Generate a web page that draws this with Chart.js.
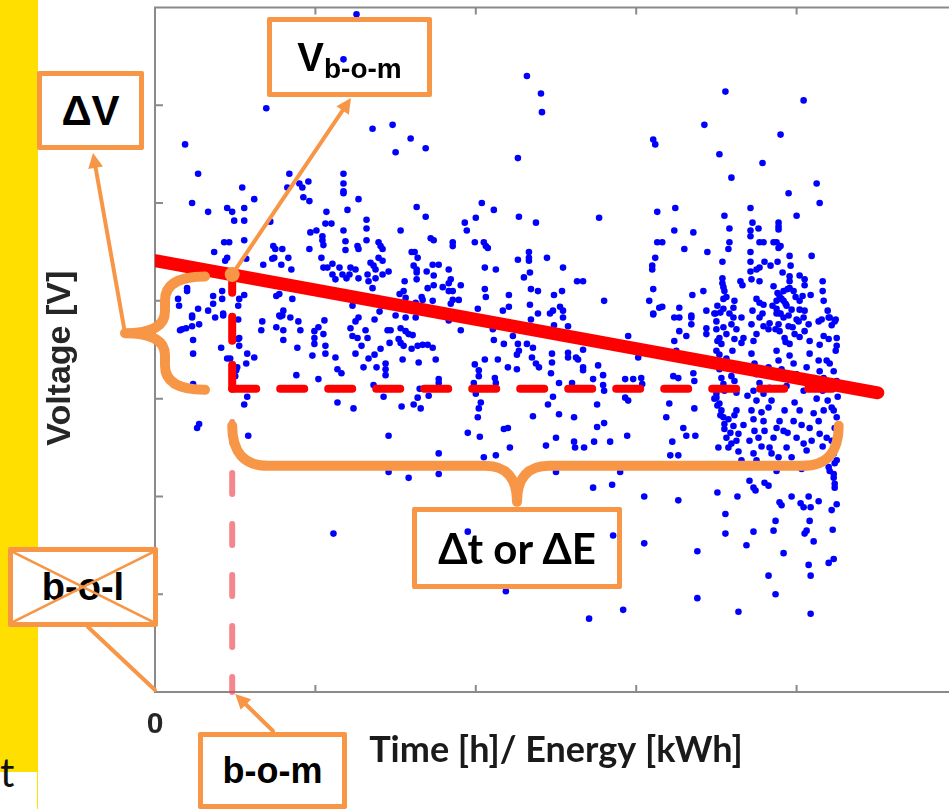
<!DOCTYPE html>
<html>
<head>
<meta charset="utf-8">
<script src="https://cdn.jsdelivr.net/npm/chart.js@4.4.1/dist/chart.umd.min.js"></script>
<style>
  html, body { margin: 0; padding: 0; background: #fff; overflow: hidden; }
  #stage { position: relative; width: 949px; height: 809px; overflow: hidden; }
  #strip { position: absolute; left: 0; top: 0; width: 38px; height: 809px; background: #FFDF00; }
  #stripEnd { position: absolute; left: 0; top: 772px; width: 37px; height: 37px; background: #fff; }
  #slideText { position: absolute; left: 0; top: 752px; font: 40px Lato, sans-serif; line-height: 1; color: #111; }
  #chartBox { position: absolute; left: 0; top: 0; width: 1000px; height: 809px; z-index: 1; }
  .tag { position: absolute; box-sizing: border-box; border: 5px solid #F79646; border-radius: 2px;
         display: flex; align-items: center; justify-content: center; z-index: 2;
         font-family: 'Liberation Sans', Arial, sans-serif; font-weight: bold; color: #000; line-height: 1; }
  .tag .sub { font-size: 28px; position: relative; top: 12px; }
  #tagDV  { left: 37px;  top: 71px;  width: 107px; height: 79px; background: #fff; font-size: 42px; }
  #tagV   { left: 267px; top: 17px;  width: 165px; height: 80px; font-size: 40px; }
  #tagBOL { left: 8px;   top: 547px; width: 150px; height: 80px; background: #fff; font-size: 38px; }
  #tagBOM { left: 198px; top: 732px; width: 149px; height: 77px; background: #fff; font-size: 36px; }
  #tagDT  { left: 412px; top: 507px; width: 210px; height: 82px; font-family: Lato, sans-serif; font-size: 42px; }
  #tagBOL svg { position: absolute; left: 0; top: 0; }
</style>
</head>
<body>
<div id="stage">
  <div id="strip"></div>
  <div id="stripEnd"></div>
  <div id="slideText">t</div>
  <div id="chartBox"><canvas id="chart"></canvas></div>
  <div class="tag" id="tagDV">ΔV</div>
  <div class="tag" id="tagV">V<span class="sub">b-o-m</span></div>
  <div class="tag" id="tagBOL">b-o-l<svg width="140" height="70" viewBox="0 0 140 70" preserveAspectRatio="none"><line x1="0" y1="0" x2="140" y2="70" stroke="#F79646" stroke-width="2.5"/><line x1="140" y1="0" x2="0" y2="70" stroke="#F79646" stroke-width="2.5"/></svg></div>
  <div class="tag" id="tagBOM">b-o-m</div>
  <div class="tag" id="tagDT">Δt or ΔE</div>
</div>
<script>
// units: x axis 0..800 (tick every 160), y axis 0..700 (tick every 100)
const xTickLabel = '0';
const xTitle = 'Time [h]/ Energy [kWh]';
const yTitle = 'Voltage [V]';

const trendLine = [[0, 441], [721, 306]];
const bomPoint = [77, 427];        // beginning of measurement, on the trend line
const plateauVoltage = 310;        // level of the red dashed line
const plateauEnd = 696;
const bomMarkerTop = 276;          // top of the pink dashed marker
const lastSample = 682;            // right end of the Δt / ΔE brace

const cloudLeft = [
  [201,693],[188,647],[111,597],[30,560],[43,530],[37,500],[53,491],[87,516],[99,504],[72,495],[77,491],[89,495],
  [79,482],[89,482],[59,450],[69,460],[74,460],[89,462],[72,444],[70,441],[91,443],[134,530],[132,516],[144,520],
  [147,516],[153,522],[148,506],[154,502],[115,481],[171,491],[170,479],[176,479],[188,530],[188,520],[188,512],
  [188,510],[192,493],[203,504],[217,576],[237,580],[240,552],[155,470],[161,472],[167,466],[167,462],[168,457],
  [154,453],[118,456],[120,453],[119,444],[117,443],[127,453],[133,444],[108,437],[126,437],[136,432],[166,444],
  [168,434],[172,434],[177,438],[188,472],[190,461],[190,452],[202,456],[203,453],[211,483],[211,474],[211,462],
  [223,460],[225,456],[227,453],[223,444],[215,439],[218,436],[220,432],[227,441],[184,434],[187,427],[191,423],
  [195,434],[194,427],[200,432],[203,423],[177,427],[180,422],[212,427],[213,420],[217,413],[220,423],[227,427],
  [233,430],[32,413],[32,410],[23,402],[24,395],[58,405],[58,397],[67,410],[67,402],[89,406],[121,405],[124,407],
  [137,402],[53,390],[43,392],[128,390],[197,395],[220,397],[227,395],[37,385],[60,383],[68,385],[124,385],[127,385],
  [25,370],[31,372],[37,374],[37,383],[44,376],[68,387],[38,360],[38,346],[66,352],[72,341],[83,381],[84,362],
  [84,354],[81,329],[80,323],[91,336],[99,342],[107,379],[106,370],[121,373],[125,384],[128,370],[128,360],[135,383],
  [143,379],[145,370],[142,352],[157,344],[159,369],[159,362],[159,356],[163,373],[168,366],[170,354],[170,346],
  [169,380],[141,324],[163,320],[180,342],[182,330],[186,326],[195,372],[197,364],[200,379],[203,383],[202,362],
  [206,354],[210,370],[212,362],[200,346],[208,332],[213,341],[219,345],[221,332],[225,351],[230,336],[230,330],
  [230,324],[234,357],[232,370],[235,370],[219,381],[224,389],[218,314],[228,302],[38,315],[92,302],[89,294],
  [182,296],[198,290],[42,270],[44,274],[93,262],[233,262],[233,225],[178,162],
  [27,371],[75,341],[82,332],[83,361],[92,346],[83,395],[84,402]
];

const cloudMiddle = [
  [371,630],[385,612],[386,593],[362,546],[255,566],[270,556],[261,496],[270,486],[245,472],[275,464],[278,462],
  [256,450],[259,450],[262,444],[258,436],[261,432],[261,429],[271,430],[277,437],[283,437],[278,426],[293,432],
  [249,420],[261,422],[272,413],[278,416],[287,414],[293,418],[295,422],[305,416],[293,410],[297,410],[303,401],
  [297,401],[295,397],[248,410],[244,407],[250,403],[266,404],[267,401],[277,400],[260,398],[297,460],[297,456],
  [309,480],[311,472],[320,485],[319,460],[326,500],[328,460],[330,456],[332,454],[338,493],[329,434],[340,432],
  [329,412],[330,404],[322,392],[353,406],[353,394],[347,390],[363,486],[380,480],[373,450],[373,444],[373,441],
  [362,442],[374,429],[368,424],[391,444],[407,434],[375,412],[382,410],[398,406],[406,410],[374,396],[382,387],
  [394,387],[404,394],[407,390],[421,420],[427,420],[443,485],[448,400],
  [245,372],[250,369],[253,366],[257,365],[243,361],[245,357],[248,354],[240,385],[250,383],[260,383],[256,351],
  [262,354],[267,355],[272,355],[277,352],[263,337],[280,340],[247,340],[283,320],[283,316],[264,310],[262,301],
  [258,294],[265,290],[246,292],[273,303],[305,370],[293,380],[319,335],[323,329],[323,323],[329,340],[342,340],
  [339,321],[340,316],[318,316],[320,305],[325,296],[323,290],[322,281],[324,261],[312,265],[337,371],[338,360],
  [348,356],[357,364],[352,332],[361,330],[348,269],[352,270],[354,250],[340,242],[328,240],[362,356],[363,349],
  [361,345],[371,356],[377,352],[376,342],[380,336],[383,332],[375,381],[398,375],[407,383],[412,374],[397,390],
  [396,346],[396,337],[395,326],[403,316],[397,302],[392,294],[403,284],[377,282],[400,260],[390,252],[412,347],
  [412,342],[420,342],[422,340],[427,350],[427,332],[427,329],[416,316],[418,281],[418,256],[419,250],[428,250],
  [442,334],[447,324],[437,320],[447,314],[448,308],[441,294],[448,275],[441,271],[438,256],[454,256],[472,364],
  [469,320],[477,320],[469,301],[472,298],[471,262],[283,244],[283,223],[253,219],[400,225],[437,209],[456,212],
  [464,225],[312,164],[350,103],[433,75],[467,84],[457,160],[482,342],[485,321],[486,315]
];

const cloudRight = [
  [497,386],[523,383],[523,369],[530,364],[535,383],[535,376],[550,372],[550,366],[558,387],[560,379],[560,371],
  [563,362],[565,356],[570,366],[575,376],[577,383],[580,371],[585,383],[587,362],[585,357],[595,376],[600,366],
  [603,383],[607,374],[612,371],[597,359],[620,387],[622,376],[623,369],[627,383],[628,362],[632,374],[633,356],
  [638,366],[642,379],[647,383],[648,369],[652,376],[653,359],[662,379],[667,364],[672,383],[672,361],[678,379],
  [680,362],[680,354],[518,359],[520,349],[530,339],[537,326],[538,318],[517,323],[522,321],[560,349],[562,339],
  [563,330],[565,321],[567,315],[570,341],[573,332],[575,323],[578,318],[580,306],[568,308],[560,305],[558,300],
  [595,346],[598,336],[600,325],[603,316],[597,308],[607,305],[612,332],[613,311],[620,349],[622,339],[625,330],
  [627,321],[630,313],[633,344],[637,336],[640,325],[643,318],[647,308],[650,332],[653,346],[657,321],[662,339],
  [663,328],[667,321],[670,311],[673,336],[677,328],[680,318],[513,295],[510,281],[538,290],[527,270],[530,262],
  [539,262],[516,256],[514,242],[522,242],[560,301],[563,295],[565,288],[567,281],[568,274],[572,279],[577,272],
  [580,288],[582,264],[570,260],[572,250],[582,246],[575,254],[595,288],[597,279],[598,267],[602,260],[597,244],
  [607,277],[608,267],[612,291],[613,250],[617,260],[620,270],[622,240],[627,267],[628,288],[630,250],[635,240],
  [637,277],[640,260],[643,288],[647,254],[650,247],[653,270],[657,285],[662,277],[663,264],[667,288],[670,260],
  [677,288],[678,270],[680,281],[677,244],[678,234],[677,223],[678,213],[673,226],[488,200],[522,196],[488,152],
  [541,144],[541,96],[561,204],[581,200],[569,182],[569,162],[593,216],[597,209],[599,206],[608,214],[612,211],
  [619,175],[617,165],[623,194],[625,191],[597,164],[590,150],[627,142],[612,119],[619,100],[582,82],[635,200],
  [644,193],[647,189],[652,200],[654,189],[662,195],[653,175],[650,165],[648,162],[657,154],[652,130],[672,132],
  [654,119],[654,80],[680,192],[675,186],[676,166],[677,136],[672,230],[677,219],[678,209],[680,237],
  [569,614],[647,605],[548,580],[497,565],[499,560],[624,570],[563,550],[606,541],[575,526],[660,520],[663,500],
  [632,510],[501,491],[519,495],[568,487],[573,474],[594,495],[596,480],[594,472],[594,466],[602,474],[622,480],
  [622,476],[622,473],[640,487],[518,472],[537,470],[501,460],[506,460],[528,453],[551,450],[573,460],[572,453],
  [603,460],[607,460],[617,460],[620,460],[624,456],[622,454],[594,450],[594,440],[594,430],[595,422],[600,432],
  [603,434],[603,420],[499,444],[496,436],[496,432],[497,412],[493,400],[503,393],[506,394],[497,387],[566,440],
  [566,423],[566,418],[567,414],[568,410],[567,402],[570,404],[578,400],[577,393],[567,392],[584,420],[586,416],
  [614,436],[621,440],[608,440],[626,429],[633,446],[634,436],[655,446],[633,425],[633,420],[633,413],[637,410],
  [627,410],[623,405],[620,400],[627,400],[630,395],[620,392],[623,387],[632,385],[643,426],[648,422],[648,416],
  [646,405],[643,400],[654,406],[648,390],[643,391],[666,420],[666,410],[536,406],[547,410],[550,390],[523,393],
  [535,385],[518,383],[559,387],[603,398],[607,396],[606,387],[596,390],[600,402],[665,381],[673,383],[679,381],
  // densest part of the late cluster
  [617,415],[621,408],[625,402],[629,397],[635,391],[639,404],[616,395],[631,412],[624,387],[640,381],[613,377],
  [619,371],[636,373],[643,363],[629,358],[561,395],[564,388],[567,373],[561,359],[573,387],[576,349],[571,337],
  [563,345],[578,361],[591,303],[600,298],[605,286],[615,298],[623,277],[631,265],[638,296],[645,273],[655,257],
  [660,300],[671,298],[666,251],[675,257],[605,251],[615,244],[593,257],[587,273],[600,237],[633,232],[657,234],
  [645,228],[620,226],[561,293],[564,283],[568,269],[574,265],[578,283],[562,250],[580,257],[585,237],[570,232],
  [667,400],[671,390],[675,375],[679,349],[670,339],[663,355],[681,302],[675,291],[666,308]
];

const ORANGE = '#F79646';
const AXIS_GREY = '#8a8a8a';
const toXY = arr => arr.map(([x, y]) => ({ x, y }));

// MATLAB style box with inward ticks
const frame = {
  id: 'frame',
  beforeDatasetsDraw(chart) {
    const { ctx, chartArea: a, scales: { x, y } } = chart;
    ctx.save();
    ctx.strokeStyle = AXIS_GREY;
    ctx.lineWidth = 2;
    ctx.beginPath();
    ctx.rect(a.left, a.top, a.right - a.left, a.bottom - a.top);
    x.ticks.forEach(t => {
      const px = x.getPixelForValue(t.value);
      ctx.moveTo(px, a.bottom); ctx.lineTo(px, a.bottom - 7);
      ctx.moveTo(px, a.top); ctx.lineTo(px, a.top + 7);
    });
    y.ticks.forEach(t => {
      const py = y.getPixelForValue(t.value);
      ctx.moveTo(a.left, py); ctx.lineTo(a.left + 8, py);
      ctx.moveTo(a.right, py); ctx.lineTo(a.right - 8, py);
    });
    ctx.stroke();
    ctx.restore();
  }
};

function arrow(ctx, x1, y1, x2, y2, head) {
  const ang = Math.atan2(y2 - y1, x2 - x1);
  const hx = x2 - head * Math.cos(ang), hy = y2 - head * Math.sin(ang);
  ctx.beginPath();
  ctx.moveTo(x1, y1);
  ctx.lineTo(hx, hy);
  ctx.stroke();
  if (!head) return;
  const w = head * 0.5;
  ctx.beginPath();
  ctx.moveTo(x2, y2);
  ctx.lineTo(hx + w * Math.sin(ang), hy - w * Math.cos(ang));
  ctx.lineTo(hx - w * Math.sin(ang), hy + w * Math.cos(ang));
  ctx.closePath();
  ctx.fill();
}

// orange braces and call-out connectors
const callouts = {
  id: 'callouts',
  afterDatasetsDraw(chart) {
    const { ctx, chartArea: a, scales: { x, y } } = chart;
    const bx = x.getPixelForValue(bomPoint[0]);
    const by = y.getPixelForValue(bomPoint[1]);
    const ly = y.getPixelForValue(plateauVoltage);
    const ex = x.getPixelForValue(lastSample);
    ctx.save();
    ctx.strokeStyle = ORANGE;
    ctx.fillStyle = ORANGE;
    ctx.lineCap = 'round';
    ctx.lineJoin = 'round';

    // ΔV brace
    const top = by + 2, bot = ly + 1, mid = (top + bot) / 2;
    const rx = a.left + 50, sx = a.left + 10, tx = a.left - 30;
    ctx.lineWidth = 10;
    ctx.beginPath();
    ctx.moveTo(rx, top);
    ctx.quadraticCurveTo(sx, top, sx, top + 24);
    ctx.lineTo(sx, mid - 22);
    ctx.quadraticCurveTo(sx, mid, tx, mid);
    ctx.quadraticCurveTo(sx, mid, sx, mid + 22);
    ctx.lineTo(sx, bot - 24);
    ctx.quadraticCurveTo(sx, bot, rx, bot);
    ctx.stroke();

    // Δt / ΔE brace
    const bt = ly + 37, bh = ly + 77, tipX = 517, tipY = ly + 113;
    ctx.beginPath();
    ctx.moveTo(bx, bt);
    ctx.quadraticCurveTo(bx, bh, bx + 36, bh);
    ctx.lineTo(tipX - 32, bh);
    ctx.quadraticCurveTo(tipX, bh, tipX, tipY);
    ctx.quadraticCurveTo(tipX, bh, tipX + 32, bh);
    ctx.lineTo(ex - 36, bh);
    ctx.quadraticCurveTo(ex, bh, ex, bt);
    ctx.stroke();

    // connectors
    ctx.lineWidth = 4;
    arrow(ctx, tx, mid, 93, 153, 15);
    arrow(ctx, bx, by, 351, 98, 15);
    arrow(ctx, 273, 731, bx + 3, a.bottom + 2, 15);
    arrow(ctx, 88, 627, a.left, a.bottom - 2, 0);
    ctx.restore();
  }
};

const cloudStyle = { pointRadius: 3.3, pointBackgroundColor: '#0000FF', pointBorderWidth: 0, pointHoverRadius: 3.3 };

new Chart(document.getElementById('chart'), {
  type: 'scatter',
  data: {
    datasets: [
      { data: toXY([bomPoint]), pointRadius: 7.5, pointBackgroundColor: ORANGE, pointBorderWidth: 0, clip: false },
      { data: toXY(trendLine), showLine: true, pointRadius: 0, borderColor: '#FF0000', borderWidth: 13,
        borderCapStyle: 'round', clip: { left: 0, top: false, right: false, bottom: false } },
      { data: toXY([[bomPoint[0], plateauVoltage], bomPoint]), showLine: true, pointRadius: 0,
        borderColor: '#FF0000', borderWidth: 8, borderDash: [24, 24], borderCapStyle: 'round', clip: false },
      { data: toXY([[bomPoint[0], plateauVoltage], [plateauEnd, plateauVoltage]]), showLine: true, pointRadius: 0,
        borderColor: '#FF0000', borderWidth: 8, borderDash: [24, 24], borderCapStyle: 'round', clip: false },
      { data: toXY([[bomPoint[0], bomMarkerTop], [bomPoint[0], 0]]), showLine: true, pointRadius: 0,
        borderColor: 'rgba(238, 70, 80, 0.65)', borderWidth: 6, borderDash: [21, 30], borderCapStyle: 'round', clip: false },
      { data: toXY(cloudLeft), ...cloudStyle },
      { data: toXY(cloudMiddle), ...cloudStyle },
      { data: toXY(cloudRight), ...cloudStyle }
    ]
  },
  options: {
    responsive: true,
    maintainAspectRatio: false,
    animation: false,
    layout: { padding: { top: 6, right: 43, bottom: 0, left: 0 } },
    plugins: { legend: { display: false }, tooltip: { enabled: false } },
    scales: {
      x: {
        type: 'linear', min: 0, max: 800,
        border: { display: false },
        grid: { display: false, drawTicks: false },
        ticks: {
          stepSize: 160, autoSkip: false, maxRotation: 0, padding: 15, color: '#262626',
          font: { family: 'Liberation Sans', weight: 'bold', size: 30 },
          callback: v => (v === 0 ? xTickLabel : '')
        },
        title: {
          display: true, text: xTitle, color: '#1a1a1a',
          font: { family: 'Lato', weight: 'bold', size: 36 },
          padding: { top: 0, bottom: 37 }
        },
        afterFit: s => { s.height = 117; }
      },
      y: {
        type: 'linear', min: 0, max: 700,
        border: { display: false },
        grid: { display: false, drawTicks: false },
        ticks: { display: false, stepSize: 100 },
        title: {
          display: true, text: yTitle + '\u2002', color: '#262626',
          font: { family: 'Liberation Sans', weight: 'bold', size: 34 },
          padding: { top: 40, bottom: 0 }
        },
        afterFit: s => { s.width = 155; }
      }
    }
  },
  plugins: [frame, callouts]
});
</script>
</body>
</html>
